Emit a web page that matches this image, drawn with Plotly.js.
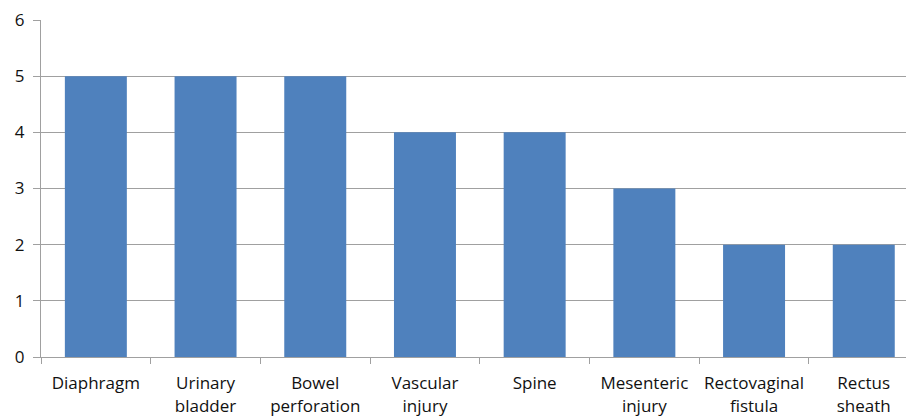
<!DOCTYPE html>
<html>
<head>
<meta charset="utf-8">
<script src="https://cdn.plot.ly/plotly-3.0.1.min.js"></script>
<style>html,body{margin:0;padding:0;background:#fff;}#chart{width:906px;height:416px;}</style>
</head>
<body>
<div id="chart"></div>
<script>
const categories = ["Diaphragm", "Urinary<br>bladder", "Bowel<br>perforation", "Vascular<br>injury", "Spine", "Mesenteric<br>injury", "Rectovaginal<br>fistula", "Rectus<br>sheath"];
const values = [5, 5, 5, 4, 4, 3, 2, 2];
const yTicks = [0, 1, 2, 3, 4, 5, 6];

const trace = {
  type: "bar",
  x: categories,
  y: values,
  marker: {color: "#4F81BD"},
  hoverinfo: "none"
};

const layout = {
  width: 906,
  height: 416,
  margin: {l: 41, r: 0, t: 20, b: 59, pad: 0},
  paper_bgcolor: "#ffffff",
  plot_bgcolor: "#ffffff",
  bargap: 0.435,
  showlegend: false,
  font: {family: "'Open Sans', sans-serif", size: 17, color: "#000"},
  xaxis: {
    type: "category",
    range: [-0.5, 7.385],
    showline: true,
    linecolor: "#a0a0a0",
    linewidth: 1,
    ticks: "outside",
    tickson: "boundaries",
    ticklen: 6,
    tickcolor: "#a0a0a0",
    showgrid: false,
    tickfont: {family: "'Open Sans', sans-serif", size: 17, color: "#111"},
    ticklabelstandoff: 11,
    fixedrange: true
  },
  yaxis: {
    range: [0, 6],
    tickvals: yTicks,
    ticktext: yTicks.map(String),
    showline: true,
    linecolor: "#a0a0a0",
    linewidth: 1,
    ticks: "outside",
    ticklen: 7,
    tickcolor: "#a0a0a0",
    showgrid: true,
    gridcolor: "#a0a0a0",
    gridwidth: 1,
    zeroline: false,
    tickfont: {family: "'Open Sans', sans-serif", size: 17, color: "#111"},
    ticklabelstandoff: 5,
    fixedrange: true
  }
};

Plotly.newPlot("chart", [trace], layout, {displayModeBar: false, staticPlot: true});
</script>
</body>
</html>
